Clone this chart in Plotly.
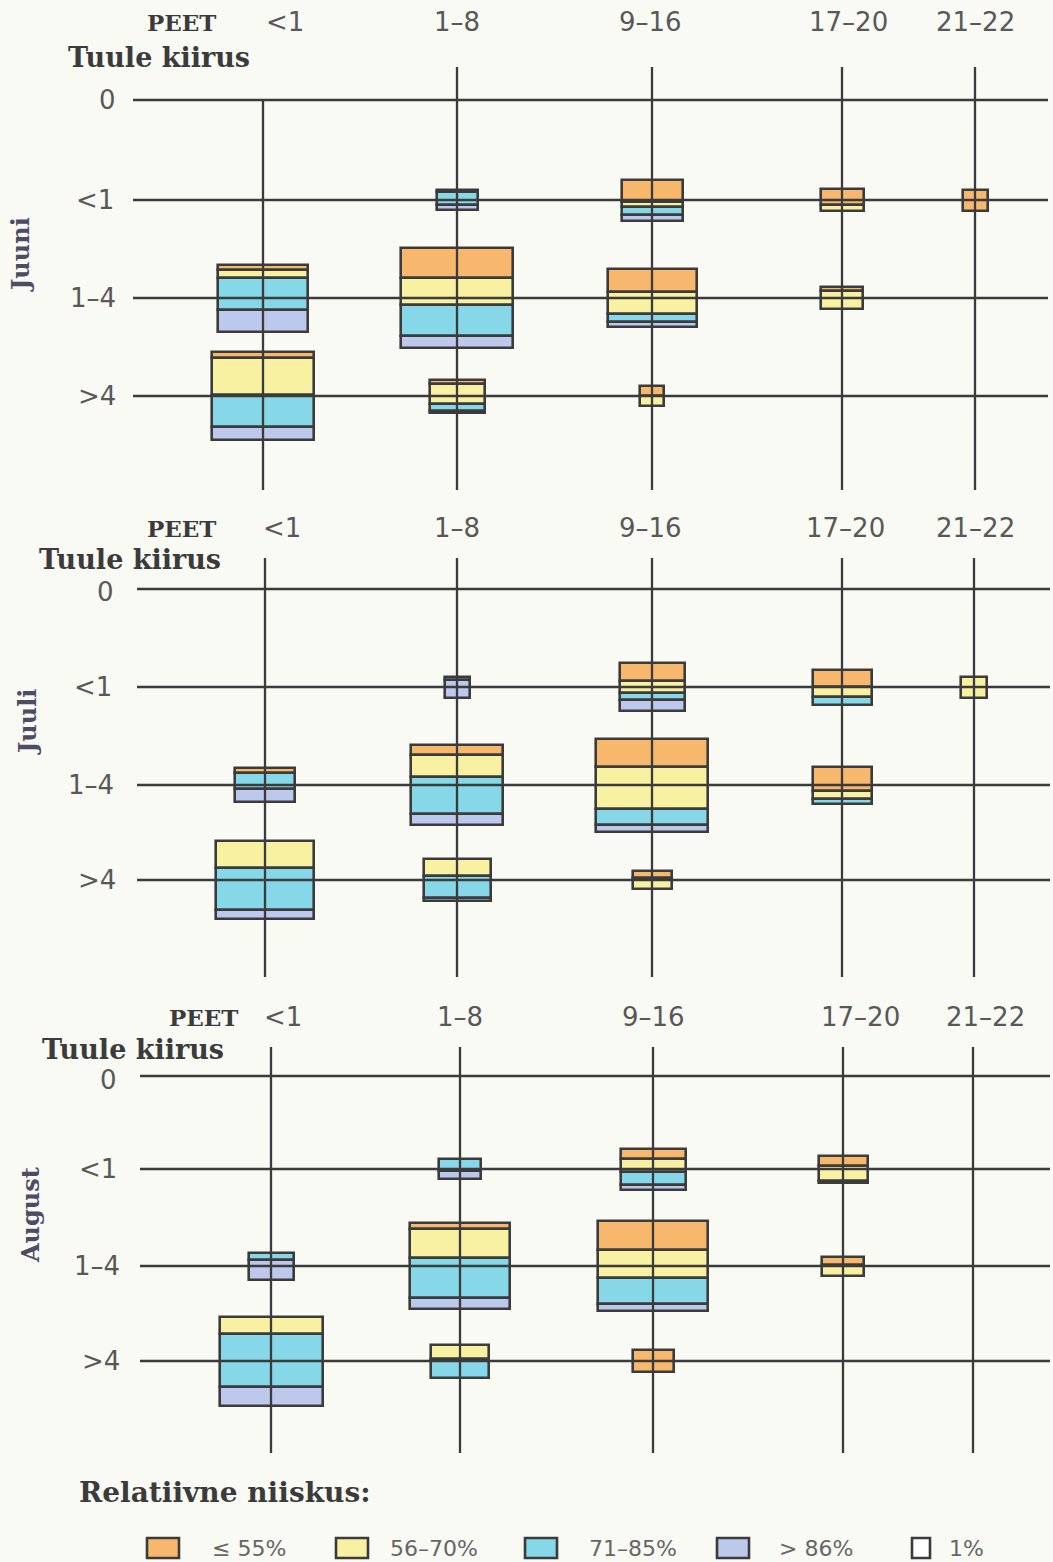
import plotly.graph_objects as go

# --- data ----------------------------------------------------------------
wind_labels = ["0", "<1", "1–4", ">4"]
peet_labels = ["<1", "1–8", "9–16", "17–20", "21–22"]
months = ["Juuni", "Juuli", "August"]
humidity_classes = ["≤ 55%", "56–70%", "71–85%", "> 86%"]
humidity_colors = ["#F7B86E", "#F8F1A2", "#86D8E8", "#BCC8EC"]

# rows: wind <1, 1-4, >4 ; columns: PEET <1, 1-8, 9-16, 17-20, 21-22
juuni_width = [[0, 41, 61, 43, 25], [90, 112, 89, 42, 0], [102, 55, 24, 0, 0]]
juuni_le55 = [[0, 0, 22, 16, 21], [5, 30, 23, 4, 0], [6, 4, 10, 0, 0]]
juuni_56_70 = [[0, 2, 5, 6, 0], [8, 27, 22, 18, 0], [37, 20, 10, 0, 0]]
juuni_71_85 = [[0, 13, 8, 0, 0], [32, 31, 8, 0, 0], [32, 7, 0, 0, 0]]
juuni_gt86 = [[0, 5, 6, 0, 0], [22, 12, 5, 0, 0], [13, 2, 0, 0, 0]]

juuli_width = [[0, 25, 65, 59, 26], [60, 92, 112, 59, 0], [98, 67, 39, 0, 0]]
juuli_le55 = [[0, 0, 18, 17, 0], [5, 10, 28, 24, 0], [0, 0, 7, 0, 0]]
juuli_56_70 = [[0, 0, 12, 10, 21], [0, 22, 42, 8, 0], [27, 17, 11, 0, 0]]
juuli_71_85 = [[0, 3, 7, 8, 0], [16, 37, 16, 5, 0], [42, 22, 0, 0, 0]]
juuli_gt86 = [[0, 18, 11, 0, 0], [13, 11, 7, 0, 0], [9, 3, 0, 0, 0]]

august_width = [[0, 42, 65, 49, 0], [45, 100, 110, 42, 0], [103, 58, 41, 0, 0]]
august_le55 = [[0, 0, 10, 10, 0], [0, 6, 29, 8, 0], [0, 0, 22, 0, 0]]
august_56_70 = [[0, 0, 13, 15, 0], [0, 29, 28, 11, 0], [17, 14, 0, 0, 0]]
august_71_85 = [[0, 12, 13, 2, 0], [7, 40, 26, 0, 0], [53, 19, 0, 0, 0]]
august_gt86 = [[0, 8, 5, 0, 0], [20, 11, 7, 0, 0], [19, 0, 0, 0, 0]]

data = {
    "Juuni": (juuni_width, [juuni_le55, juuni_56_70, juuni_71_85, juuni_gt86]),
    "Juuli": (juuli_width, [juuli_le55, juuli_56_70, juuli_71_85, juuli_gt86]),
    "August": (august_width, [august_le55, august_56_70, august_71_85, august_gt86]),
}

# --- grid geometry of the three panels (page pixels) -------------------------
W, H = 1053, 1562
INK = "#3b3b3b"
NUM = "#585858"
BG = "#FAFAF5"
TYPE = "DejaVu Serif"   # typewriter-like slab serif
SANS = "DejaVu Sans"

panels = {
    "Juuni": dict(cols=[263, 457, 652, 842, 975], rows=[100, 200, 298, 396],
                  x0=133, x1=1048, ytop=67, ybot=490, first_col_top=100,
                  head_y=22, head_x=[285, 457, 650, 848, 975], peet_x=181,
                  tuule=(66, 57), label_x=[118, 116, 118, 118], zero_y=100,
                  month=(20, 255)),
    "Juuli": dict(cols=[265, 457, 652, 842, 974], rows=[589, 687, 785, 880],
                  x0=137, x1=1050, ytop=558, ybot=977, first_col_top=558,
                  head_y=528, head_x=[282, 457, 650, 845, 975], peet_x=181,
                  tuule=(37, 559), label_x=[116, 114, 116, 118], zero_y=592,
                  month=(27, 722)),
    "August": dict(cols=[271, 460, 653, 843, 973], rows=[1076, 1169, 1266, 1361],
                   x0=140, x1=1050, ytop=1047, ybot=1453, first_col_top=1047,
                   head_y=1017, head_x=[283, 460, 653, 860, 985], peet_x=203,
                   tuule=(40, 1049), label_x=[119, 119, 122, 122], zero_y=1080,
                   month=(30, 1215)),
}

fig = go.Figure()
annotations = []

for month in months:
    p = panels[month]
    widths, layers = data[month]

    # grid lines
    gx, gy = [], []
    for ry in p["rows"]:
        gx += [p["x0"], p["x1"], None]
        gy += [ry, ry, None]
    for i, cx in enumerate(p["cols"]):
        top = p["first_col_top"] if i == 0 else p["ytop"]
        gx += [cx, cx, None]
        gy += [top, p["ybot"], None]
    fig.add_trace(go.Scatter(x=gx, y=gy, mode="lines", hoverinfo="skip",
                             line=dict(color=INK, width=2.3), showlegend=False))

    # stacked boxes, centred on each grid crossing
    for k, cls in enumerate(humidity_classes):
        bx, by, bbase, bw = [], [], [], []
        for r in range(3):
            for c in range(5):
                h = layers[k][r][c]
                if h <= 0:
                    continue
                total = sum(layers[j][r][c] for j in range(4))
                top = p["rows"][r + 1] - total / 2 + sum(layers[j][r][c] for j in range(k))
                bx.append(p["cols"][c])
                by.append(h)
                bbase.append(top)
                bw.append(widths[r][c])
        fig.add_trace(go.Bar(x=bx, y=by, base=bbase, width=bw, name=cls,
                             marker=dict(color=humidity_colors[k], line=dict(color=INK, width=2.6)),
                             showlegend=False))

    # texts
    annotations.append(dict(x=p["peet_x"], y=p["head_y"], text="<b>PEET</b>",
                            font=dict(family=TYPE, size=23, color=INK)))
    for hx, lab in zip(p["head_x"], peet_labels):
        annotations.append(dict(x=hx, y=p["head_y"], text=lab,
                                font=dict(family=SANS, size=26, color=NUM)))
    annotations.append(dict(x=p["tuule"][0], y=p["tuule"][1], text="<b>Tuule kiirus</b>",
                            xanchor="left", font=dict(family=TYPE, size=27, color=INK)))
    for i, (ry, lab, rx) in enumerate(zip(p["rows"], wind_labels, p["label_x"])):
        annotations.append(dict(x=rx, y=p["zero_y"] if i == 0 else ry, text=lab, xanchor="right",
                                font=dict(family=SANS, size=26, color=NUM)))
    annotations.append(dict(x=p["month"][0], y=p["month"][1], text=f"<b>{month}</b>",
                            textangle=-90, font=dict(family=TYPE, size=24, color="#4c4c66")))

# legend
annotations.append(dict(x=77, y=1492, text="<b>Relatiivne niiskus:</b>", xanchor="left",
                        font=dict(family=TYPE, size=28, color=INK)))
legend_box_x = [147, 336, 525, 717]
legend_text_x = [210, 388, 587, 777]
shapes = []
for bxl, tx, cls, col in zip(legend_box_x, legend_text_x, humidity_classes, humidity_colors):
    shapes.append(dict(type="rect", xref="x", yref="y", x0=bxl, x1=bxl + 32, y0=1538, y1=1558,
                       fillcolor=col, line=dict(color=INK, width=2.6)))
    annotations.append(dict(x=tx, y=1548, text=cls, xanchor="left",
                            font=dict(family=SANS, size=22, color="#666666")))
shapes.append(dict(type="rect", xref="x", yref="y", x0=912, x1=930, y0=1538, y1=1558,
                   fillcolor="white", line=dict(color=INK, width=2.6)))
annotations.append(dict(x=947, y=1548, text="1%", xanchor="left",
                        font=dict(family=SANS, size=22, color="#666666")))

for a in annotations:
    a.setdefault("xref", "x")
    a.setdefault("yref", "y")
    a.setdefault("showarrow", False)
    a.setdefault("yanchor", "middle")

fig.update_layout(
    width=W, height=H, margin=dict(l=0, r=0, t=0, b=0),
    paper_bgcolor=BG, plot_bgcolor=BG, barmode="overlay", bargap=0,
    xaxis=dict(range=[0, W], visible=False, fixedrange=True),
    yaxis=dict(range=[H, 0], visible=False, fixedrange=True),
    annotations=annotations, shapes=shapes,
)

fig.write_html("out.html", config={"displayModeBar": False},
               post_script="document.body.style.margin='0';")
